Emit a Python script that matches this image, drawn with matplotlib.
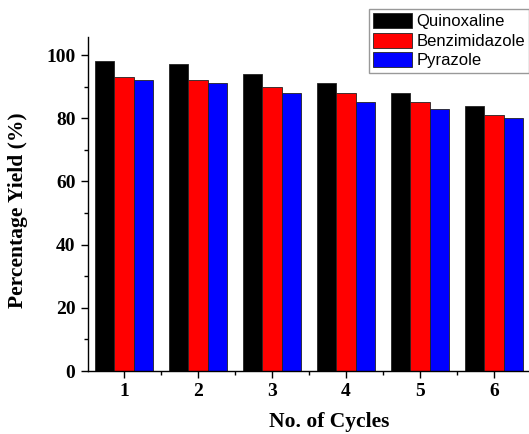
import numpy as np
import matplotlib.pyplot as plt
from matplotlib.ticker import MultipleLocator

cycles = [1, 2, 3, 4, 5, 6]
quinoxaline = [98, 97, 94, 91, 88, 84]
benzimidazole = [93, 92, 90, 88, 85, 81]
pyrazole = [92, 91, 88, 85, 83, 80]
labels = ['Quinoxaline', 'Benzimidazole', 'Pyrazole']
colors = ['black', 'red', 'blue']

fig = plt.figure(figsize=(5.29, 4.34), dpi=100)
W, H = 529, 434
# axes run past the right edge, like the cropped original
left, right, bottom, top = 88, 570, 371, 37
ax = fig.add_axes([left / W, 1 - bottom / H, (right - left) / W, (bottom - top) / H])

x = np.array(cycles)
w = 0.263
for i, (vals, c, lab) in enumerate(zip([quinoxaline, benzimidazole, pyrazole], colors, labels)):
    ax.bar(x + (i - 1) * w, vals, w, color=c, edgecolor='#222222', linewidth=0.6, label=lab)

ax.set_xlim(0.514, 0.514 + (right - left) / 74)
ax.set_ylim(0, 105.7)
ax.spines['top'].set_visible(False)
ax.spines['right'].set_visible(False)
ax.spines['left'].set_linewidth(1.0)
ax.spines['bottom'].set_linewidth(1.0)

ax.set_xticks(cycles)
ax.xaxis.set_minor_locator(MultipleLocator(0.5))
ax.yaxis.set_major_locator(MultipleLocator(20))
ax.yaxis.set_minor_locator(MultipleLocator(10))
ax.tick_params(which='major', direction='out', length=5, width=1, pad=4)
ax.tick_params(which='minor', direction='out', length=3, width=1)

for t in ax.get_xticklabels() + ax.get_yticklabels():
    t.set_fontfamily('Liberation Serif')
    t.set_fontweight('bold')
    t.set_fontsize(14)

ax.set_xlabel('No. of Cycles', fontfamily='Liberation Serif', fontweight='bold', fontsize=15.5, labelpad=8)
ax.set_ylabel('Percentage Yield (%)', fontfamily='Liberation Serif', fontweight='bold', fontsize=15.5)
ax.yaxis.set_label_coords(-0.124, 0.482)

fig.legend(loc='upper left', bbox_to_anchor=(369 / W, 1 - 9 / H), prop={'family': 'Liberation Sans', 'size': 12},
           fancybox=False, edgecolor='#999999', handlelength=2.3, handleheight=1.0, labelspacing=0.2,
           handletextpad=0.3, borderpad=0.25, borderaxespad=0, framealpha=1)

fig.savefig('out.png', dpi=100)
